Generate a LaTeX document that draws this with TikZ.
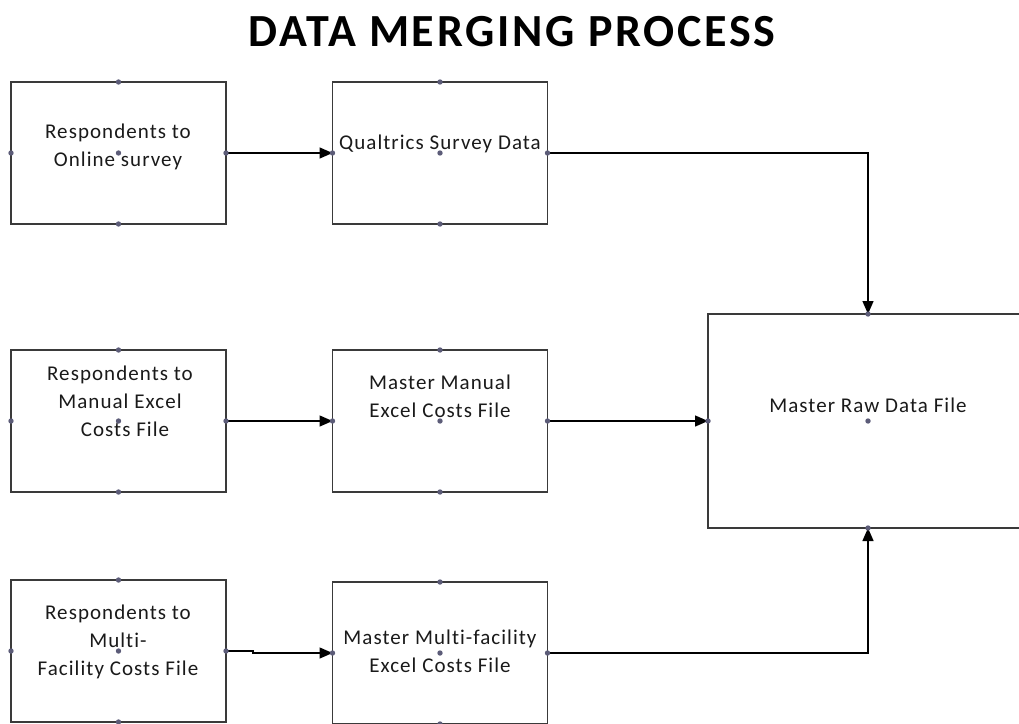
\documentclass[tikz,border=0pt]{standalone}
\usepackage{fontspec}
\setmainfont{Carlito}
\newfontfamily\boxfont{Carlito}[LetterSpace=5.0,Ligatures=NoCommon]
\newfontfamily\titlefont{Carlito}[LetterSpace=6.0]
\usetikzlibrary{arrows.meta}
\definecolor{edge}{HTML}{3A3A3A}
\definecolor{handle}{HTML}{5C5C78}
\definecolor{ink}{HTML}{1A1A1A}
\tikzset{
  box/.style={draw=edge, line width=1.4pt, fill=white, rectangle, inner sep=0pt, outer sep=0pt,
              minimum width=215pt, minimum height=142pt},
  bigbox/.style={box, minimum width=320pt, minimum height=214pt},
  label/.style={text=ink, font=\boxfont\fontsize{21}{28}\selectfont, align=center, inner sep=0pt},
  flow/.style={draw=black, line width=1.4pt, -{Triangle[length=13pt,width=11pt]}},
  grip/.style={fill=handle}
}
\begin{document}
\begin{tikzpicture}[x=1pt,y=-1pt]
  \useasboundingbox (0,0) rectangle (1019,723);
  \clip (0,0) rectangle (1019,723);
  \fill[white] (0,0) rectangle (1019,723);

  % title
  \node[text=black, font=\titlefont\bfseries\fontsize{46}{54}\selectfont, anchor=base] (title) at (512,46) {DATA MERGING PROCESS};

  % boxes
  \node[box] (A) at (118.5,153) {};
  \node[box] (B) at (440,153) {};
  \node[box] (C) at (118.5,421) {};
  \node[box] (D) at (440,421) {};
  \node[box] (E) at (118.5,651) {};
  \node[box] (F) at (440,653) {};
  \node[bigbox] (G) at (868,421) {};

  % box texts
  \node[label] (tA) at (118,147) {Respondents to\\Online survey};
  \node[label] (tB) at (440,144) {Qualtrics Survey Data};
  \node[label] (tC) at (120,401) {Respondents to\\Manual Excel\\\hspace*{10pt}Costs File};
  \node[label] (tD) at (440,396) {Master Manual\\Excel Costs File};
  \node[label] (tE) at (118,642) {Respondents to\\Multi-\\Facility Costs File};
  \node[label] (tF) at (440,651) {Master Multi-facility\\Excel Costs File};
  \node[label] (tG) at (868,405) {Master Raw Data File};

  % connectors
  \coordinate (kink) at ([xshift=27pt]E.east);
  \draw[flow] (A.east) -- (B.west);
  \draw[flow] (C.east) -- (D.west);
  \draw[flow] (E.east) -- (kink) |- (F.west);
  \draw[flow] (B.east) -| (G.north);
  \draw[flow] (D.east) -- (G.west);
  \draw[flow] (F.east) -| (G.south);

  % selection handles
  \foreach \n in {A,B,C,D,E,F,G}
    \foreach \a in {north,south,east,west,center}
      \fill[grip] (\n.\a) circle (2.7);
\end{tikzpicture}
\end{document}
